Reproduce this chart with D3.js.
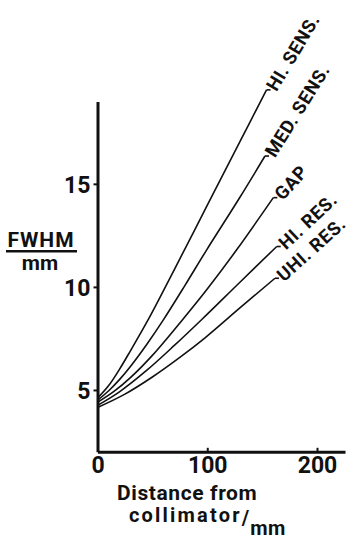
<!DOCTYPE html>
<html>
<head>
<meta charset="utf-8">
<script src="https://cdn.jsdelivr.net/npm/d3@7"></script>
<style>
  body { margin: 0; background: #fff; }
  text { font-family: Roboto, "DejaVu Sans", sans-serif; font-weight: bold; fill: #111; }
</style>
</head>
<body>
<svg id="chart" width="351" height="541"></svg>
<script>
// tick values
var xTicks = [0, 100, 200];
var yTicks = [5, 10, 15];

// curve labels (top to bottom)
var names = ["HI. SENS.", "MED. SENS.", "GAP", "HI. RES.", "UHI. RES."];

// FWHM (mm) against distance from collimator (mm)
var hiSensX = [0, 10, 20, 30, 46.3, 70, 102.5, 130, 154];
var hiSensY = [4.6, 5.2, 6.0, 6.9, 8.42, 10.84, 14.22, 17.07, 19.56];
var medSensX = [0, 10, 20, 30, 45, 60, 80, 99.5, 129.2, 152.6];
var medSensY = [4.5, 4.95, 5.5, 6.14, 7.22, 8.4, 10.1, 11.8, 14.3, 16.35];
var gapX = [0, 15, 30, 50, 77.3, 100, 126.8, 160.2];
var gapY = [4.4, 4.93, 5.6, 6.68, 8.4, 9.9, 11.8, 14.33];
var hiResX = [0, 20, 45, 70, 95, 130, 163.3];
var hiResY = [4.25, 4.91, 5.96, 7.16, 8.42, 10.24, 11.96];
var uhiResX = [0, 25, 50, 75, 98, 130, 161.7];
var uhiResY = [4.15, 4.8, 5.63, 6.58, 7.53, 8.99, 10.42];

var labelAngle = [59, 58, 48, 43, 42];

var series = [
  [hiSensX, hiSensY], [medSensX, medSensY], [gapX, gapY], [hiResX, hiResY], [uhiResX, uhiResY]
].map(function (s, i) {
  return { name: names[i], angle: labelAngle[i], values: s[0].map(function (x, j) { return { x: x, y: s[1][j] }; }) };
});

var svg = d3.select("#chart");

var x = d3.scaleLinear().domain([0, 225.5]).range([97.5, 345]);
var y = d3.scaleLinear().domain([2, 19]).range([451.8, 101.4]);

// curves
var line = d3.line()
  .x(function (d) { return x(d.x); })
  .y(function (d) { return y(d.y); })
  .curve(d3.curveCatmullRom.alpha(0.5));

svg.append("g").selectAll("path")
  .data(series).enter().append("path")
  .attr("d", function (d) { return line(d.values); })
  .attr("fill", "none")
  .attr("stroke", "#111")
  .attr("stroke-width", 1.6);

// little hook + rotated label at each curve end
var ends = svg.append("g").selectAll("g")
  .data(series).enter().append("g")
  .attr("transform", function (d) {
    var last = d.values[d.values.length - 1];
    return "translate(" + x(last.x) + "," + y(last.y) + ")";
  });

ends.append("line")
  .attr("x1", 0).attr("y1", 0).attr("x2", 4).attr("y2", 0)
  .attr("stroke", "#111").attr("stroke-width", 1.6);

ends.append("text")
  .attr("transform", function (d) { return "translate(4,0) rotate(" + (-d.angle) + ")"; })
  .attr("x", 1)
  .attr("dy", "0.35em")
  .attr("font-size", 18.5)
  .attr("letter-spacing", 0.6)
  .text(function (d) { return d.name; });

// x axis
var gx = svg.append("g")
  .attr("transform", "translate(0," + y(2) + ")")
  .call(d3.axisBottom(x).tickValues(xTicks).tickSizeInner(-4).tickSizeOuter(0));
gx.select(".domain").attr("stroke", "#111").attr("stroke-width", 3);
gx.selectAll(".tick line").attr("stroke", "#111").attr("stroke-width", 2);
gx.selectAll(".tick text")
  .attr("y", 21.5).attr("dy", 0)
  .attr("font-size", 23).attr("font-family", null)
  .attr("fill", "#111");

// y axis
var gy = svg.append("g")
  .attr("transform", "translate(" + x(0) + ",0)")
  .call(d3.axisLeft(y).tickValues(yTicks).tickSizeInner(4).tickSizeOuter(0));
gy.select(".domain").attr("stroke", "#111").attr("stroke-width", 3);
gy.selectAll(".tick line").attr("stroke", "#111").attr("stroke-width", 2);
gy.selectAll(".tick text")
  .attr("x", -7).attr("dy", "0.36em")
  .attr("font-size", 23).attr("font-family", null)
  .attr("fill", "#111");

// y title: FWHM over mm
svg.append("text").attr("x", 41).attr("y", 247)
  .attr("text-anchor", "middle").attr("font-size", 21).attr("letter-spacing", 1)
  .text("FWHM");
svg.append("line").attr("x1", 6).attr("x2", 77).attr("y1", 251.3).attr("y2", 251.3)
  .attr("stroke", "#111").attr("stroke-width", 2.5);
svg.append("text").attr("x", 40).attr("y", 270)
  .attr("text-anchor", "middle").attr("font-size", 21)
  .text("mm");

// x title
svg.append("text").attr("x", 117).attr("y", 500)
  .attr("font-size", 21).attr("letter-spacing", 0.6)
  .text("Distance from");
var t2 = svg.append("text").attr("x", 129).attr("y", 522).attr("font-size", 20);
t2.append("tspan").attr("letter-spacing", 2.2).text("collimator");
t2.append("tspan").attr("dy", 3).attr("letter-spacing", 0).text("/");
t2.append("tspan").attr("dy", 10).attr("dx", 1).attr("letter-spacing", 0.5).text("mm");
</script>
</body>
</html>
